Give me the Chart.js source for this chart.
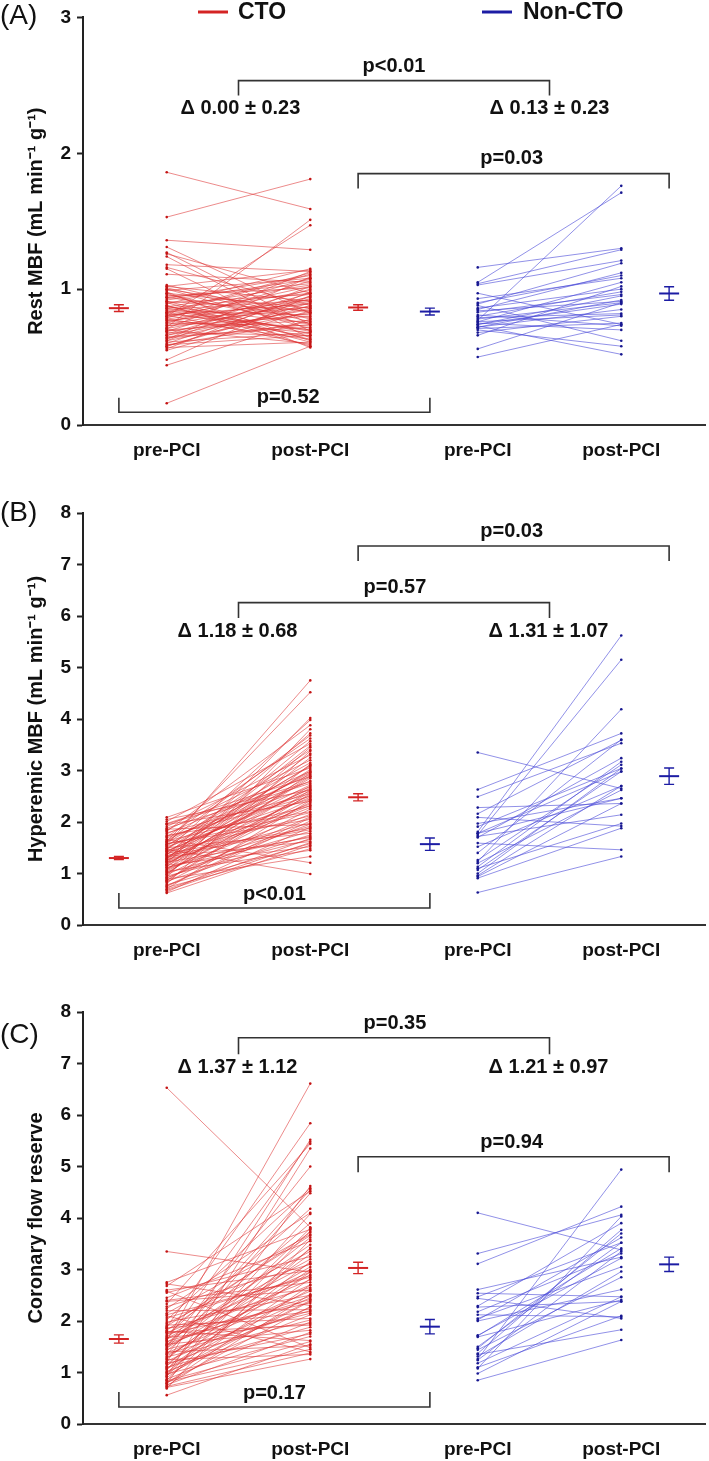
<!DOCTYPE html>
<html><head><meta charset="utf-8">
<script src="https://cdn.jsdelivr.net/npm/chart.js@4.4.1/dist/chart.umd.min.js"></script>
<style>body{margin:0;background:#fff}canvas{position:absolute;left:0}</style>
</head><body>
<div style="position:relative;width:709px;height:1461px;overflow:hidden">
<canvas id="cA" style="top:0px"></canvas>
<canvas id="cB" style="top:470px"></canvas>
<canvas id="cC" style="top:960px"></canvas>
</div>
<script>
// ---------- categories / labels ----------
const categories = ['pre-PCI', 'post-PCI', 'pre-PCI', 'post-PCI'];
const groups = ['CTO', 'Non-CTO'];
const yTitles = ['Rest MBF (mL min\u207B\u00B9 g\u207B\u00B9)', 'Hyperemic MBF (mL min\u207B\u00B9 g\u207B\u00B9)', 'Coronary flow reserve'];

// ---------- Panel A: rest MBF ----------
const restCtoPre = [1.86,1.53,1.36,1.31,1.27,1.26,1.24,1.18,1.16,1.15, 1.11,1.03,1.02,1.02,1.00,0.99,0.97,0.97,0.95,0.94, 0.93,0.91,0.91,0.90,0.88,0.87,0.87,0.85,0.84,0.83, 0.82,0.81,0.80,0.80,0.78,0.77,0.76,0.75,0.75,0.73, 0.72,0.71,0.70,0.69,0.68,0.66,0.66,0.65,0.63,0.62, 0.61,0.60,0.59,0.58,0.57,0.56,0.55,0.48,0.44,0.16, 0.98,0.89,0.86,0.79,0.74,0.70,0.64,1.01,0.92,0.83, 0.96,0.94,0.90,0.86,0.84,0.82,0.81,0.78,0.77,0.73, 0.71,0.69,0.67,0.64,0.62,0.59,0.58,1.00,0.88,0.79];
const restCtoPost = [1.59,1.81,1.29,0.82,0.74,0.97,0.69,1.13,0.88,0.64, 1.05,0.78,1.14,0.91,0.71,1.08,0.86,0.62,1.01,0.79, 1.10,0.84,0.67,0.96,0.58,1.03,0.75,0.92,0.81,1.12, 0.70,0.89,0.99,1.47,0.63,0.87,0.94,0.73,1.06,0.80, 1.51,0.90,0.77,1.00,0.66,0.85,0.93,0.72,1.09,0.83, 0.68,0.95,0.76,0.88,0.61,0.98,0.84,0.95,0.78,0.58, 0.57,1.15,0.69,1.02,0.91,0.60,0.86,0.76,1.07,0.65, 0.74,1.04,0.63,0.97,0.70,1.11,0.59,0.92,0.68,0.87, 1.13,0.82,0.97,0.74,1.02,0.66,0.90,0.83,0.61,1.08];
const restNonPre = [1.16,1.05,1.04,1.03,0.97,0.93,0.90,0.89,0.88,0.86, 0.85,0.84,0.83,0.81,0.80,0.79,0.78,0.77,0.76,0.76, 0.75,0.74,0.74,0.73,0.72,0.72,0.71,0.70,0.68,0.66, 0.56,0.50];
const restNonPost = [1.30,1.71,1.29,1.21,0.74,1.08,1.10,1.19,0.62,1.00, 1.12,0.91,0.96,0.73,0.98,0.82,0.90,1.76,0.81,1.05, 0.70,0.95,0.89,0.52,0.92,0.85,0.75,0.58,0.80,1.02, 0.90,0.74];
const restMeanCto = [0.86, 0.865], restSeCto = [0.025, 0.02];
const restMeanNon = [0.835, 0.968], restSeNon = [0.025, 0.05];

// ---------- Panel B: hyperemic MBF ----------
const hypCtoPre = [2.09,2.05,2.01,1.97,1.95,1.91,1.88,1.86,1.82,1.79, 1.77,1.74,1.71,1.69,1.66,1.65,1.63,1.62,1.60,1.58, 1.56,1.55,1.53,1.52,1.50,1.48,1.47,1.45,1.44,1.42, 1.41,1.39,1.37,1.36,1.34,1.33,1.31,1.30,1.28,1.27, 1.25,1.24,1.22,1.21,1.19,1.18,1.16,1.15,1.13,1.11, 1.09,1.08,1.06,1.04,1.02,1.01,0.99,0.97,0.95,0.93, 0.91,0.89,0.87,0.85,0.83,0.80,0.78,0.75,0.73,0.70, 0.67,0.64,0.62, 1.96,1.84,1.72,1.61,1.57,1.49,1.43,1.35,1.29,1.23, 1.17,1.12,1.05,0.98,0.92,0.86,0.76,0.69,1.38,1.26];
const hypCtoPost = [3.05,2.62,3.52,2.88,2.40,3.30,2.75,1.95,3.88,2.55, 2.98,2.20,3.62,2.68,1.21,2.92,2.31,4.52,3.15,2.05, 2.80,4.75,3.40,2.45,1.78,2.96,0.99,3.98,2.60,2.12, 3.10,1.88,2.72,3.72,2.35,1.62,2.90,2.48,3.57,1.98, 2.66,3.02,1.70,2.28,4.02,2.85,1.52,2.52,3.25,1.92, 2.70,2.15,3.45,1.45,2.58,1.82,2.95,2.38,1.66,3.80, 2.10,1.33,2.62,1.75,2.25,3.38,1.58,2.02,1.48,2.42, 1.60,1.90,1.55, 2.78,3.20,2.50,3.68,2.18,3.08,2.64,1.85,3.48,2.32, 2.88,1.72,2.44,3.12,1.96,2.55,2.08,1.68,2.99,3.33];
const hypNonPre = [3.35,2.63,2.49,2.28,2.16,2.09,1.97,1.91,1.81,1.78, 1.75,1.72,1.70,1.59,1.52,1.26,1.23,1.20,1.13,1.10, 1.07,1.00,0.94,0.91,0.63,1.78,1.40,0.96];
const hypNonPost = [2.65,3.72,3.53,2.36,3.59,1.92,2.46,3.04,5.62,2.98, 5.15,2.14,3.24,1.46,2.70,3.11,4.19,2.62,3.17,1.97, 2.98,3.04,2.36,1.88,1.33,2.46,3.60,2.70];
const hypMeanCto = [1.30, 2.48], hypSeCto = [0.03, 0.07];
const hypMeanNon = [1.57, 2.89], hypSeNon = [0.12, 0.16];

// ---------- Panel C: coronary flow reserve ----------
const cfrCtoPre = [6.53,3.35,2.75,2.72,2.68,2.60,2.58,2.45,2.40,2.33, 2.28,2.20,2.15,2.10,2.06,2.02,1.98,1.95,1.92,1.88, 1.85,1.82,1.80,1.77,1.75,1.72,1.70,1.68,1.65,1.62, 1.60,1.58,1.55,1.52,1.50,1.48,1.45,1.42,1.40,1.38, 1.35,1.32,1.30,1.28,1.25,1.22,1.20,1.17,1.15,1.12, 1.10,1.07,1.05,1.02,1.00,0.97,0.95,0.92,0.90,0.87, 0.85,0.82,0.80,0.78,0.76,0.74,0.71,0.69,0.56,1.63, 2.55,2.38,2.24,2.12,1.90,1.78,1.66,1.56,1.46,1.36, 1.26,1.18,1.08,0.99,0.93,0.84,0.79,0.73,1.86,1.53];
const cfrCtoPost = [3.82,2.95,3.78,2.30,4.52,2.98,1.48,3.55,2.75,5.44, 3.10,2.22,3.68,1.40,2.88,4.58,2.50,3.35,2.05,5.84, 2.65,3.72,1.62,2.95,2.35,4.18,3.20,1.95,2.80,6.61, 2.42,3.48,1.82,2.70,5.00,3.05,2.15,3.62,1.52,2.58, 4.48,2.90,2.02,3.30,1.35,2.45,5.52,3.00,2.26,3.80, 1.88,2.62,4.08,2.12,3.15,1.70,2.38,5.35,2.82,1.98, 3.42,1.45,2.28,4.62,1.78,2.52,1.26,3.58,1.55,5.48, 3.25,2.60,4.10,2.85,3.66,1.92,3.12,2.48,4.55,2.20, 3.40,1.75,2.95,2.40,3.75,1.60,2.70,1.38,2.18,3.90];
const cfrNonPre = [4.10,3.31,3.11,2.61,2.54,2.47,2.44,2.29,2.27,2.18, 2.12,2.02,2.00,1.71,1.69,1.47,1.44,1.37,1.31,1.26, 1.24,1.18,1.08,0.98,0.85,1.35,1.72,2.05,1.50,1.10];
const cfrNonPost = [3.38,4.06,4.22,3.24,2.47,3.52,2.05,3.90,2.38,3.31, 2.08,3.62,2.61,3.41,2.41,3.70,2.85,3.77,2.96,4.94, 3.35,2.47,4.03,2.38,1.63,1.83,3.22,3.05,3.52,2.10];
const cfrMeanCto = [1.65, 3.03], cfrSeCto = [0.08, 0.11];
const cfrMeanNon = [1.89, 3.10], cfrSeNon = [0.14, 0.14];

// ---------- annotation texts ----------
const pTextsA = ['p<0.01', 'p=0.03', 'p=0.52'], deltaA = ['\u0394 0.00 \u00B1 0.23', '\u0394 0.13 \u00B1 0.23'];
const pTextsB = ['p=0.57', 'p=0.03', 'p<0.01'], deltaB = ['\u0394 1.18 \u00B1 0.68', '\u0394 1.31 \u00B1 1.07'];
const pTextsC = ['p=0.35', 'p=0.94', 'p=0.17'], deltaC = ['\u0394 1.37 \u00B1 1.12', '\u0394 1.21 \u00B1 0.97'];

// ---------- layout (x positions on a linear scale, not data) ----------
const X = {mCtoPre: 0.75, ctoPre: 1.75, ctoPost: 4.75, mCtoPost: 5.75, mNonPre: 7.25, nonPre: 8.25, nonPost: 11.25, mNonPost: 12.25};
const tickPos = [X.ctoPre, X.ctoPost, X.nonPre, X.nonPost];
const FONT = '"Liberation Sans", Arial, Helvetica, sans-serif';
const RED = '#d42424', BLUE = '#1c1ca4';

function pairData(pre, post, x0, x1) {
  const d = [];
  for (let i = 0; i < pre.length; i++) {
    d.push({x: x0, y: pre[i]}, {x: x1, y: post[i]}, {x: x1, y: null});
  }
  return d;
}

function makeChart(id, cfg) {
  const cv = document.getElementById(id);
  cv.width = 709; cv.height = cfg.H;
  cv.style.width = '709px'; cv.style.height = cfg.H + 'px';
  const annot = {
    id: 'annot_' + id,
    afterDatasetsDraw(chart) {
      const ctx = chart.ctx, xs = chart.scales.x, ys = chart.scales.y;
      ctx.save();
      const means = [
        [X.mCtoPre, cfg.mCto[0], cfg.sCto[0], RED], [X.mCtoPost, cfg.mCto[1], cfg.sCto[1], RED],
        [X.mNonPre, cfg.mNon[0], cfg.sNon[0], BLUE], [X.mNonPost, cfg.mNon[1], cfg.sNon[1], BLUE]];
      for (const [x, m, s, c] of means) {
        const px = xs.getPixelForValue(x), py = ys.getPixelForValue(m);
        const t = ys.getPixelForValue(m + s), b = ys.getPixelForValue(m - s);
        ctx.strokeStyle = c;
        ctx.lineWidth = 2;
        ctx.beginPath(); ctx.moveTo(px - 10, py); ctx.lineTo(px + 10, py); ctx.stroke();
        ctx.lineWidth = 1.4;
        ctx.beginPath();
        ctx.moveTo(px, t); ctx.lineTo(px, b);
        ctx.moveTo(px - 5, t); ctx.lineTo(px + 5, t);
        ctx.moveTo(px - 5, b); ctx.lineTo(px + 5, b);
        ctx.stroke();
      }
      ctx.strokeStyle = '#333'; ctx.lineWidth = 1.6;
      ctx.fillStyle = '#111';
      ctx.font = 'bold 20px ' + FONT;
      ctx.textAlign = 'center'; ctx.textBaseline = 'middle';
      for (const br of cfg.brackets) {
        const x1 = xs.getPixelForValue(br.x1), x2 = xs.getPixelForValue(br.x2);
        const yb = ys.getPixelForValue(br.y), yl = ys.getPixelForValue(br.leg);
        ctx.beginPath(); ctx.moveTo(x1, yl); ctx.lineTo(x1, yb); ctx.lineTo(x2, yb); ctx.lineTo(x2, yl); ctx.stroke();
        ctx.fillText(br.text, xs.getPixelForValue(br.lx), ys.getPixelForValue(br.ly));
      }
      for (const tx of cfg.texts) {
        ctx.fillText(tx.text, xs.getPixelForValue(tx.x), ys.getPixelForValue(tx.y));
      }
      ctx.textAlign = 'left';
      ctx.font = '28px ' + FONT;
      ctx.fillText(cfg.panel, 0, cfg.panelY);
      if (cfg.legend) {
        ctx.lineWidth = 3;
        ctx.strokeStyle = RED; ctx.beginPath(); ctx.moveTo(198, 12); ctx.lineTo(228, 12); ctx.stroke();
        ctx.strokeStyle = BLUE; ctx.beginPath(); ctx.moveTo(482, 12); ctx.lineTo(512, 12); ctx.stroke();
        ctx.font = 'bold 23px ' + FONT;
        ctx.fillText(groups[0], 238, 13);
        ctx.fillText(groups[1], 523, 13);
      }
      ctx.restore();
    }
  };
  return new Chart(cv, {
    type: 'scatter',
    data: {datasets: [
      {data: pairData(cfg.ctoPre, cfg.ctoPost, X.ctoPre, X.ctoPost), showLine: true, spanGaps: false,
       borderColor: 'rgba(222,52,52,0.72)', borderWidth: 0.8, pointRadius: 1.3, pointBorderWidth: 0,
       pointBackgroundColor: '#c41414'},
      {data: pairData(cfg.nonPre, cfg.nonPost, X.nonPre, X.nonPost), showLine: true, spanGaps: false,
       borderColor: 'rgba(70,70,215,0.75)', borderWidth: 0.8, pointRadius: 1.3, pointBorderWidth: 0,
       pointBackgroundColor: '#181890'}
    ]},
    options: {
      responsive: false, animation: false, devicePixelRatio: 1,
      layout: {padding: {top: cfg.top, left: 0, right: 2, bottom: 0}},
      plugins: {legend: {display: false}, tooltip: {enabled: false}},
      scales: {
        x: {type: 'linear', min: 0, max: 13,
          afterBuildTicks(s) { s.ticks = tickPos.map(v => ({value: v})); },
          afterFit(s) { s.height = cfg.H - cfg.bottom; },
          grid: {display: false, drawTicks: false},
          border: {display: true, color: '#333', width: 2},
          ticks: {autoSkip: false, maxRotation: 0, padding: 14, color: '#111',
            font: {family: FONT, size: 19, weight: 'bold'},
            callback: (v, i) => categories[i]}
        },
        y: {min: 0, max: cfg.yMax,
          afterFit(s) { s.width = 83; },
          ticks: {stepSize: 1, padding: 6, color: '#111', font: {family: FONT, size: 19, weight: 'bold'}},
          grid: {display: true, drawOnChartArea: false, drawTicks: true, tickLength: 6, tickWidth: 2, tickColor: '#222'},
          border: {display: true, color: '#222', width: 2},
          title: {display: true, text: cfg.title, color: '#111', font: {family: FONT, size: 20, weight: 'bold'},
            padding: {top: 24, bottom: 0}}
        }
      }
    },
    plugins: [annot]
  });
}

makeChart('cA', {
  H: 470, top: 12, bottom: 425, yMax: 3, title: yTitles[0], panel: '(A)', panelY: 16, legend: true,
  ctoPre: restCtoPre, ctoPost: restCtoPost, nonPre: restNonPre, nonPost: restNonPost,
  mCto: restMeanCto, sCto: restSeCto, mNon: restMeanNon, sNon: restSeNon,
  brackets: [
    {x1: 3.25, x2: 9.75, y: 2.535, leg: 2.425, text: pTextsA[0], lx: 6.5, ly: 2.64},
    {x1: 5.75, x2: 12.25, y: 1.85, leg: 1.74, text: pTextsA[1], lx: 8.96, ly: 1.96},
    {x1: 0.75, x2: 7.25, y: 0.094, leg: 0.2, text: pTextsA[2], lx: 4.29, ly: 0.2}
  ],
  texts: [{x: 3.29, y: 2.33, text: deltaA[0]}, {x: 9.75, y: 2.33, text: deltaA[1]}]
});

makeChart('cB', {
  H: 490, top: 43, bottom: 455, yMax: 8, title: yTitles[1], panel: '(B)', panelY: 43, legend: false,
  ctoPre: hypCtoPre, ctoPost: hypCtoPost, nonPre: hypNonPre, nonPost: hypNonPost,
  mCto: hypMeanCto, sCto: hypSeCto, mNon: hypMeanNon, sNon: hypSeNon,
  brackets: [
    {x1: 3.25, x2: 9.75, y: 6.26, leg: 5.96, text: pTextsB[0], lx: 6.52, ly: 6.56},
    {x1: 5.75, x2: 12.25, y: 7.36, leg: 7.07, text: pTextsB[1], lx: 8.96, ly: 7.65},
    {x1: 0.75, x2: 7.25, y: 0.33, leg: 0.62, text: pTextsB[2], lx: 4.0, ly: 0.60}
  ],
  texts: [{x: 3.23, y: 5.69, text: deltaB[0]}, {x: 9.73, y: 5.69, text: deltaB[1]}]
});

makeChart('cC', {
  H: 501, top: 52, bottom: 464, yMax: 8, title: yTitles[2], panel: '(C)', panelY: 75, legend: false,
  ctoPre: cfrCtoPre, ctoPost: cfrCtoPost, nonPre: cfrNonPre, nonPost: cfrNonPost,
  mCto: cfrMeanCto, sCto: cfrSeCto, mNon: cfrMeanNon, sNon: cfrSeNon,
  brackets: [
    {x1: 3.25, x2: 9.75, y: 7.50, leg: 7.18, text: pTextsC[0], lx: 6.52, ly: 7.78},
    {x1: 5.75, x2: 12.25, y: 5.19, leg: 4.89, text: pTextsC[1], lx: 8.96, ly: 5.47},
    {x1: 0.75, x2: 7.25, y: 0.33, leg: 0.62, text: pTextsC[2], lx: 4.0, ly: 0.60}
  ],
  texts: [{x: 3.23, y: 6.93, text: deltaC[0]}, {x: 9.73, y: 6.93, text: deltaC[1]}]
});
</script>
</body></html>
